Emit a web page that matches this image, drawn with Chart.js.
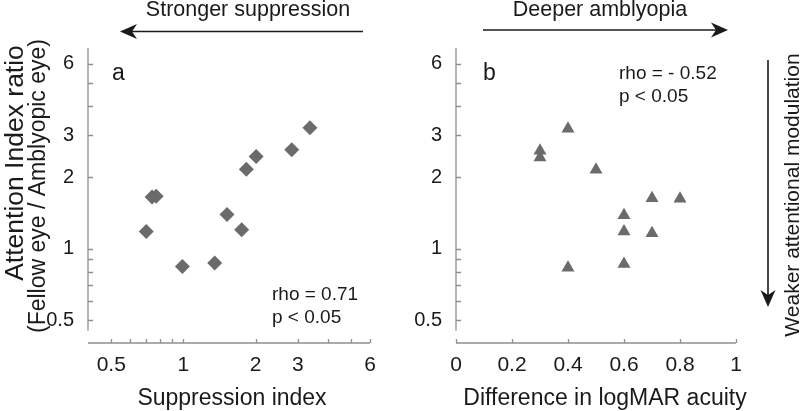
<!DOCTYPE html>
<html>
<head>
<meta charset="utf-8">
<script src="https://cdn.jsdelivr.net/npm/chart.js@4.4.1/dist/chart.umd.min.js"></script>
<style>
html, body { margin: 0; padding: 0; background: #fff; }
#wrap { position: relative; width: 800px; height: 411px; }
#wrap canvas { position: absolute; left: 0; top: 0; }
</style>
</head>
<body>
<div id="wrap">
    <canvas id="chartA" width="800" height="411"></canvas>
    <canvas id="chartB" width="800" height="411"></canvas>
</div>
<script>
// --- DATA ---
// panel a: suppression index vs attention index ratio
const suppressionIdx = [0.70, 0.74, 0.77, 0.99, 1.35, 1.52, 1.75, 1.83, 2.01, 2.83, 3.37];
const ratioA         = [1.18, 1.65, 1.66, 0.84, 0.87, 1.39, 1.20, 2.16, 2.44, 2.61, 3.23];

// panel b: logMAR difference vs attention index ratio
const logmarDiff = [0.4, 0.3, 0.3, 0.5, 0.7, 0.8, 0.6, 0.6, 0.7, 0.4, 0.6];
const ratioB     = [3.20, 2.58, 2.42, 2.15, 1.63, 1.62, 1.38, 1.18, 1.16, 0.83, 0.86];

// ticks (log axes have unlabeled minor ticks)
const logTicks      = [0.5, 0.6, 0.7, 0.8, 0.9, 1, 2, 3, 4, 5, 6];
const logTickLabels = ['0.5', '', '', '', '', '1', '2', '3', '', '', '6'];
const linTicksB      = [0, 0.2, 0.4, 0.6, 0.8, 1];
const linTickLabelsB = ['0', '0.2', '0.4', '0.6', '0.8', '1'];

const textA = { panel: 'a', stat: ['rho = 0.71', 'p < 0.05'], xTitle: 'Suppression index', arrow: 'Stronger suppression' };
const textB = { panel: 'b', stat: ['rho = - 0.52', 'p < 0.05'], xTitle: 'Difference in logMAR acuity', arrow: 'Deeper amblyopia' };
const yTitle = ['Attention Index ratio', '(Fellow eye / Amblyopic eye)'];
const sideTitle = 'Weaker attentional modulation';

const FONT = '"Liberation Sans", Arial, Helvetica, sans-serif';
const INK = '#1a1a1a';
const AXIS = '#8f8f8f';
const MARK = '#6b6b6b';

Chart.defaults.font.family = FONT;
Chart.defaults.color = INK;

// --- DRAW HELPERS ---
function arrow(ctx, x1, y1, x2, y2) {
    const ang = Math.atan2(y2 - y1, x2 - x1);
    const len = 17, half = 7.5, notch = 5;
    ctx.save();
    ctx.strokeStyle = INK; ctx.fillStyle = INK; ctx.lineWidth = 1.6;
    ctx.beginPath();
    ctx.moveTo(x1, y1);
    ctx.lineTo(x2 - Math.cos(ang) * (len - notch), y2 - Math.sin(ang) * (len - notch));
    ctx.stroke();
    ctx.translate(x2, y2); ctx.rotate(ang);
    ctx.beginPath();
    ctx.moveTo(0, 0);
    ctx.lineTo(-len, -half);
    ctx.lineTo(-len + notch, 0);
    ctx.lineTo(-len, half);
    ctx.closePath();
    ctx.fill();
    ctx.restore();
}

function text(ctx, str, x, y, size, align, rot) {
    ctx.save();
    ctx.fillStyle = INK;
    ctx.font = size + 'px ' + FONT;
    ctx.textAlign = align || 'left';
    ctx.textBaseline = 'alphabetic';
    ctx.translate(x, y);
    if (rot) ctx.rotate(rot);
    ctx.fillText(str, 0, 0);
    ctx.restore();
}

function drawAxes(chart, xTicks, xMin, xMax) {
    const { ctx, chartArea, scales } = chart;
    const x0 = chartArea.left, yb = chartArea.bottom;
    ctx.save();
    ctx.strokeStyle = AXIS; ctx.lineWidth = 1.3;
    ctx.beginPath();
    // y axis stops short of the x axis
    ctx.moveTo(x0, chartArea.top);
    ctx.lineTo(x0, scales.y.getPixelForValue(0.45));
    logTicks.forEach(v => {
        const py = Math.round(scales.y.getPixelForValue(v)) + 0.5;
        ctx.moveTo(x0, py); ctx.lineTo(x0 + 5, py);
    });
    ctx.moveTo(scales.x.getPixelForValue(xMin), yb);
    ctx.lineTo(scales.x.getPixelForValue(xMax), yb);
    xTicks.forEach(v => {
        const px = Math.round(scales.x.getPixelForValue(v)) + 0.5;
        ctx.moveTo(px, yb); ctx.lineTo(px, yb - 4);
    });
    ctx.stroke();
    ctx.restore();
}

const decorA = {
    id: 'decorA',
    afterDraw(chart) {
        const ctx = chart.ctx;
        drawAxes(chart, logTicks, 0.4, 6);
        text(ctx, textA.arrow, 248, 16, 21.5, 'center');
        arrow(ctx, 363, 31.5, 120, 31.5);
        text(ctx, textA.panel, 112, 80, 23);
        text(ctx, textA.stat[0], 272, 300, 19);
        text(ctx, textA.stat[1], 272, 323, 19);
        text(ctx, textA.xTitle, 232, 405, 23, 'center');
        text(ctx, yTitle[0], 23, 163, 26.5, 'center', -Math.PI / 2);
        text(ctx, yTitle[1], 45, 186, 23, 'center', -Math.PI / 2);
    }
};

const decorB = {
    id: 'decorB',
    afterDraw(chart) {
        const ctx = chart.ctx;
        drawAxes(chart, linTicksB, 0, 1);
        text(ctx, textB.arrow, 600, 16, 21.5, 'center');
        arrow(ctx, 483, 30, 728, 30);
        text(ctx, textB.panel, 483, 80, 23);
        text(ctx, textB.stat[0], 619, 79, 19);
        text(ctx, textB.stat[1], 619, 102, 19);
        text(ctx, textB.xTitle, 605, 405, 23, 'center');
        arrow(ctx, 768, 60, 768, 307);
        text(ctx, sideTitle, 799, 195, 21, 'center', -Math.PI / 2);
    }
};

function yScale() {
    return {
        type: 'logarithmic', min: 0.4, max: 7,
        grid: { display: false }, border: { display: false },
        afterBuildTicks: s => { s.ticks = logTicks.map(v => ({ value: v })); },
        afterFit: s => { s.width = 60; },
        ticks: {
            autoSkip: false, padding: 6, color: INK, font: { size: 20 },
            callback: (v, i) => logTickLabels[i]
        }
    };
}

function baseOptions(xCfg, pad) {
    return {
        responsive: false, animation: false, events: [],
        layout: { padding: pad },
        plugins: { legend: { display: false }, tooltip: { enabled: false } },
        scales: { x: xCfg, y: yScale() }
    };
}

new Chart(document.getElementById('chartA'), {
    type: 'scatter',
    data: {
        datasets: [{
            data: suppressionIdx.map((v, i) => ({ x: v, y: ratioA[i] })),
            pointStyle: 'rectRot', pointRadius: 7.5, borderWidth: 0,
            backgroundColor: MARK, borderColor: MARK
        }]
    },
    options: baseOptions({
        type: 'logarithmic', min: 0.4, max: 6,
        grid: { display: false }, border: { display: false },
        afterBuildTicks: s => { s.ticks = logTicks.map(v => ({ value: v })); },
        afterFit: s => { s.height = 30; },
        ticks: {
            autoSkip: false, maxRotation: 0, padding: 2, color: INK, font: { size: 21 },
            callback: (v, i) => logTickLabels[i]
        }
    }, { left: 28, right: 430, top: 48, bottom: 38 }),
    plugins: [decorA]
});

new Chart(document.getElementById('chartB'), {
    type: 'scatter',
    data: {
        datasets: [{
            data: logmarDiff.map((v, i) => ({ x: v, y: ratioB[i] })),
            pointStyle: 'triangle', pointRadius: 7.5, borderWidth: 0,
            backgroundColor: MARK, borderColor: MARK
        }]
    },
    options: baseOptions({
        type: 'linear', min: 0, max: 1,
        grid: { display: false }, border: { display: false },
        afterBuildTicks: s => { s.ticks = linTicksB.map(v => ({ value: v })); },
        afterFit: s => { s.height = 30; },
        ticks: {
            autoSkip: false, maxRotation: 0, padding: 2, color: INK, font: { size: 21 },
            callback: (v, i) => linTickLabelsB[i]
        }
    }, { left: 396, right: 64, top: 48, bottom: 38 }),
    plugins: [decorB]
});
</script>
</body>
</html>
